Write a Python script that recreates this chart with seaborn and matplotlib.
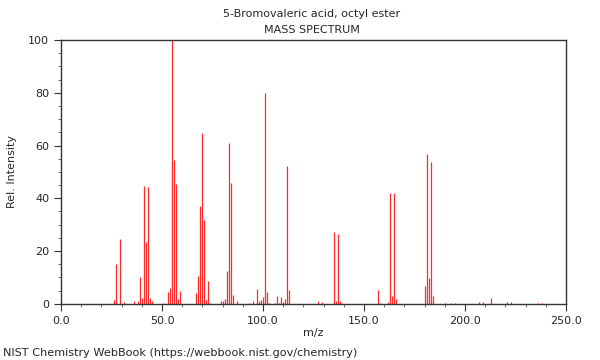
import pandas as pd
import matplotlib
matplotlib.use('Agg')
import matplotlib.pyplot as plt
import seaborn as sns
from matplotlib.ticker import MultipleLocator, FormatStrFormatter

# peaks (m/z, relative intensity)
mz = [26, 27, 29, 31, 36, 38, 39, 40, 41, 42, 43, 44, 45,
      51, 53, 54, 55, 56, 57, 58, 59, 67, 68, 69, 70, 71, 72, 73, 74,
      79, 80, 81, 82, 83, 84, 85, 87, 93, 95, 97, 98, 99, 100, 101, 102, 103,
      106, 107, 108, 109, 110, 111, 112, 113, 127, 129,
      135, 136, 137, 138, 139, 157, 158, 162, 163, 164, 165, 166,
      180, 181, 182, 183, 184, 190, 193, 195, 207, 209, 213, 221, 223, 236, 238]
intensity = [1.6, 15.2, 24.7, 0.8, 0.9, 1.0, 10.3, 2.1, 44.5, 23.5, 44.4, 2.4, 1.0,
             0.5, 4.4, 6.1, 100.0, 54.4, 45.6, 1.9, 4.7, 4.2, 10.5, 37.0, 64.7, 31.9, 1.3, 8.5, 0.5,
             0.9, 1.0, 1.9, 12.6, 60.8, 45.9, 3.5, 0.9, 0.5, 1.0, 5.8, 1.0, 1.6, 2.5, 79.8, 4.5, 0.5,
             0.5, 2.8, 0.5, 2.7, 0.8, 1.9, 52.4, 5.2, 1.1, 0.8,
             27.1, 1.2, 26.6, 1.1, 0.5, 5.2, 0.5, 0.8, 42.0, 3.1, 42.0, 2.0,
             6.9, 56.8, 9.8, 53.8, 3.1, 0.4, 0.4, 0.5, 0.6, 0.6, 2.3, 0.8, 0.8, 0.5, 0.5]

df = pd.DataFrame({'mz': mz, 'intensity': intensity})

sns.set_style('ticks')
plt.rcParams['font.family'] = ['DejaVu Sans']

fig = plt.figure(figsize=(6, 3.6), dpi=100)
ax = fig.add_axes([0.1017, 0.156, 0.8416, 0.733])

ax.vlines(df['mz'], 0, df['intensity'], color='#ff2a2a', linewidth=0.9)

ax.set_xlim(0, 250)
ax.set_ylim(0, 100)
ax.xaxis.set_major_locator(MultipleLocator(50))
ax.xaxis.set_minor_locator(MultipleLocator(10))
ax.xaxis.set_major_formatter(FormatStrFormatter('%.1f'))
ax.yaxis.set_major_locator(MultipleLocator(20))
ax.yaxis.set_minor_locator(MultipleLocator(5))
ax.tick_params(which='major', length=5, width=0.8, labelsize=8, color='#333333')
ax.tick_params(which='minor', length=2.5, width=0.6, color='#555555')
for s in ax.spines.values():
    s.set_visible(True)
    s.set_color('#333333')
    s.set_linewidth(1.0)

ax.set_xlabel('m/z', fontsize=8, labelpad=2)
ax.set_ylabel('Rel. Intensity', fontsize=8, labelpad=10)
ax.yaxis.set_label_coords(-0.088, 0.5)

fig.text(0.52, 0.962, '5-Bromovaleric acid, octyl ester', ha='center', va='center', fontsize=8)
fig.text(0.52, 0.917, 'MASS SPECTRUM', ha='center', va='center', fontsize=8)
fig.text(0.005, 0.02, 'NIST Chemistry WebBook (https://webbook.nist.gov/chemistry)',
         ha='left', va='center', fontsize=8.1)

fig.savefig('out.png', dpi=100)
